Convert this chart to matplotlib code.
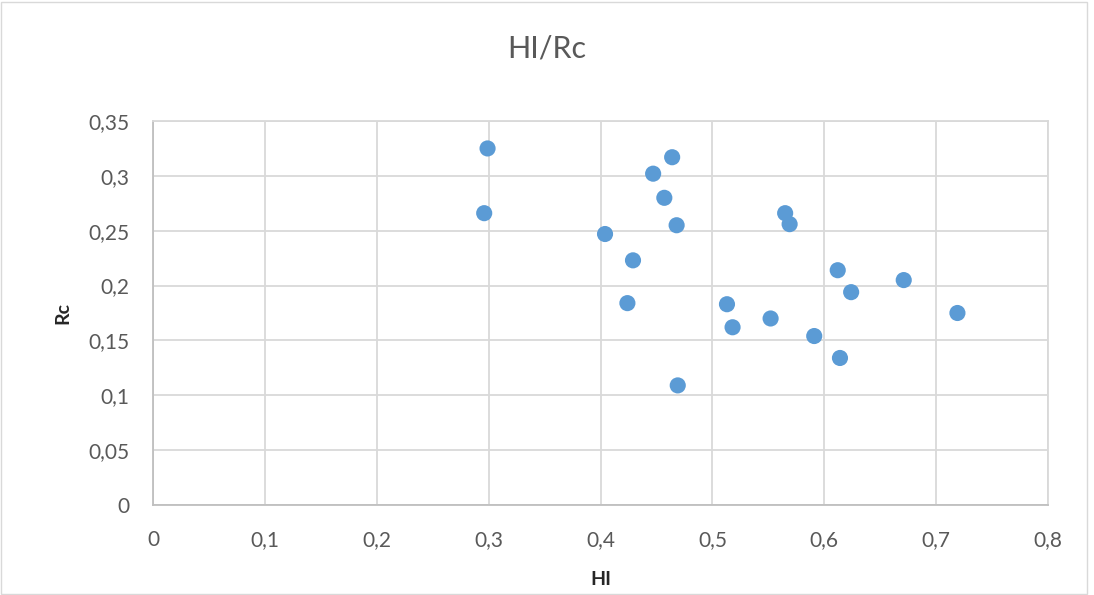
import matplotlib
matplotlib.use("Agg")
import matplotlib.pyplot as plt
from matplotlib.ticker import FuncFormatter, MultipleLocator
from matplotlib.patches import Rectangle

plt.rcParams["font.family"] = ["Lato", "DejaVu Sans"]

HI = [0.299, 0.296, 0.404, 0.424, 0.429, 0.447, 0.457, 0.464, 0.468, 0.469,
      0.513, 0.518, 0.552, 0.565, 0.569, 0.591, 0.612, 0.614, 0.624, 0.671, 0.719]
RC = [0.325, 0.266, 0.247, 0.184, 0.223, 0.302, 0.280, 0.317, 0.255, 0.109,
      0.183, 0.162, 0.170, 0.266, 0.256, 0.154, 0.214, 0.134, 0.194, 0.205, 0.175]

TITLE = "HI/Rc"
XLABEL = "HI"
YLABEL = "Rc"


def comma_fmt(v, pos):
    s = f"{v:.2f}".rstrip("0").rstrip(".")
    return s.replace(".", ",")


fig = plt.figure(figsize=(10.94, 5.95), dpi=100)
ax = fig.add_axes([0.1399, 0.1513, 0.8181, 0.6453])

ax.scatter(HI, RC, s=135, color="#5B9BD5", edgecolors="none", zorder=3)

ax.set_xlim(0, 0.8)
ax.set_ylim(0, 0.35)
ax.xaxis.set_major_locator(MultipleLocator(0.1))
ax.yaxis.set_major_locator(MultipleLocator(0.05))
ax.xaxis.set_major_formatter(FuncFormatter(comma_fmt))
ax.yaxis.set_major_formatter(FuncFormatter(comma_fmt))

ax.grid(True, color="#D9D9D9", linewidth=1.3, zorder=0)
ax.set_axisbelow(True)
for side in ["top", "right"]:
    ax.spines[side].set_color("#D9D9D9")
    ax.spines[side].set_linewidth(1.3)
for side in ["left", "bottom"]:
    ax.spines[side].set_color("#BFBFBF")
    ax.spines[side].set_linewidth(1.3)

ax.tick_params(axis="y", length=0, labelsize=15, colors="#595959", pad=17)
ax.tick_params(axis="x", length=0, labelsize=15, colors="#595959", pad=18)

ax.set_xlabel(XLABEL, fontsize=14, fontweight="bold", color="#262626", labelpad=15)
ax.set_ylabel(YLABEL, fontsize=14, fontweight="bold", color="#262626", labelpad=12)

fig.text(0.5, 0.919, TITLE, ha="center", va="center", fontsize=22, color="#595959")

fig.patches.append(Rectangle((0.001, 0.001), 0.993, 0.995, transform=fig.transFigure,
                             fill=False, edgecolor="#D9D9D9", linewidth=1.0))

fig.savefig("out.png", dpi=100)
